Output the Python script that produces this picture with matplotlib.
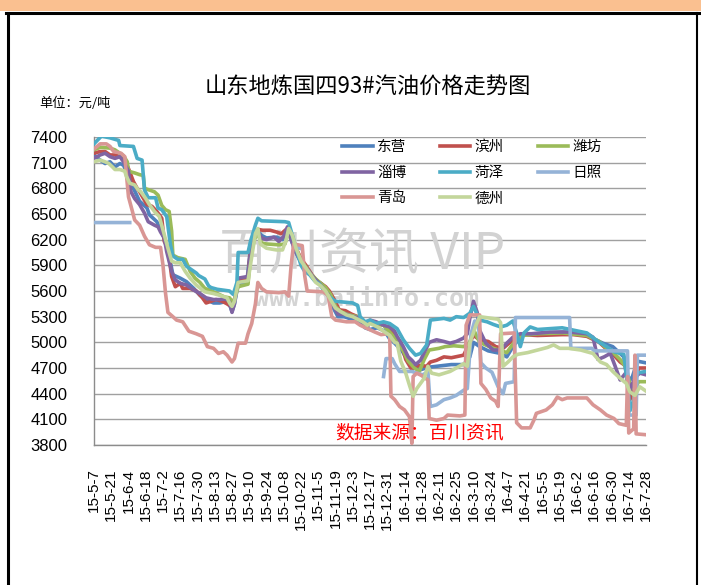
import matplotlib
matplotlib.use("Agg")
import matplotlib.pyplot as plt
from matplotlib.patches import Rectangle
from matplotlib.lines import Line2D
import numpy as np

plt.rcParams['font.family'] = ['Noto Sans CJK SC', 'DejaVu Sans']

W, H = 701, 585

title = '山东地炼国四93#汽油价格走势图'
unit = '单位：元/吨'
source = '数据来源：百川资讯'

# x axis: days since 15-5-7, one label every 14 days
tick_labels = ['15-5-7', '15-5-21', '15-6-4', '15-6-18', '15-7-2', '15-7-16', '15-7-30',
               '15-8-13', '15-8-27', '15-9-10', '15-9-24', '15-10-8', '15-10-22', '15-11-5',
               '15-11-19', '15-12-3', '15-12-17', '15-12-31', '16-1-14', '16-1-28', '16-2-11',
               '16-2-25', '16-3-10', '16-3-24', '16-4-7', '16-4-21', '16-5-5', '16-5-19',
               '16-6-2', '16-6-16', '16-6-30', '16-7-14', '16-7-28']
yticks = list(range(3800, 7401, 300))

# 东营
dy_day = [0, 5, 9, 13, 17, 21, 24, 26, 32, 37, 43, 45, 51, 55, 59, 62, 64, 70, 75, 81,
          86, 91, 97, 102, 108, 110, 112, 114, 117, 124, 127, 130, 133, 136, 140, 148, 153, 156, 158, 160,
          163, 166, 169, 173, 177, 181, 185, 189, 192, 195, 198, 203, 207, 212, 216, 220, 224, 230, 236, 240,
          244, 250, 255, 258, 261, 265, 272, 278, 290, 300, 305, 308, 313, 320, 330, 335, 340, 346, 350, 360,
          370, 380, 390, 400, 413, 421, 430, 433, 437, 441, 448]
dy_val = [7190, 7130, 7090, 7110, 7050, 7090, 7070, 7000, 6800, 6650, 6570, 6490, 6410, 6290, 6140, 5940, 5790, 5750, 5710, 5630,
          5550, 5500, 5460, 5460, 5480, 5440, 5360, 5450, 5680, 5700, 6100, 6250, 6300, 6250, 6220, 6230, 6200, 6280, 6330, 6200,
          6080, 5990, 5900, 5830, 5770, 5720, 5680, 5600, 5470, 5380, 5300, 5300, 5280, 5270, 5240, 5170, 5150, 5170, 5130, 5040,
          4990, 4900, 4780, 4720, 4700, 4680, 4710, 4720, 4740, 4740, 4830, 5000, 4950, 4900, 4870, 4830, 4950, 5060, 5100, 5100,
          5110, 5120, 5110, 5080, 4990, 4950, 4830, 4520, 4600, 4780, 4760]

# 滨州
bz_day = [0, 5, 9, 13, 17, 21, 25, 28, 32, 35, 37, 43, 47, 51, 55, 57, 60, 63, 66, 70,
          72, 78, 83, 88, 91, 99, 104, 108, 111, 114, 117, 125, 127, 130, 133, 137, 143, 148, 152, 156,
          158, 161, 164, 168, 172, 176, 180, 184, 188, 191, 195, 199, 204, 209, 214, 218, 222, 224, 235, 240,
          246, 249, 253, 258, 261, 265, 270, 273, 278, 284, 290, 300, 305, 308, 313, 320, 326, 332, 336, 342,
          348, 360, 380, 389, 400, 410, 416, 422, 427, 432, 435, 439, 442, 448]
bz_val = [7210, 7230, 7230, 7190, 7190, 7170, 7130, 7030, 6880, 6800, 6760, 6610, 6590, 6530, 6450, 6180, 6100, 5770, 5650, 5690,
          5630, 5630, 5600, 5520, 5460, 5500, 5480, 5450, 5420, 5500, 5720, 5750, 6100, 6280, 6320, 6310, 6310, 6290, 6270, 6320,
          6330, 6200, 6100, 5980, 5900, 5810, 5730, 5690, 5650, 5600, 5500, 5380, 5370, 5330, 5300, 5250, 5220, 5240, 5200, 5140,
          5050, 5000, 4800, 4680, 4720, 4730, 4720, 4770, 4790, 4830, 4820, 4850, 5000, 5080, 5030, 5010, 4950, 4930, 4980, 5050,
          5090, 5080, 5090, 5090, 5070, 5000, 4920, 4850, 4770, 4720, 4330, 4520, 4700, 4700]

# 潍坊
wf_day = [0, 5, 13, 17, 21, 24, 27, 28, 33, 37, 40, 41, 45, 49, 52, 55, 58, 61, 63, 64,
          68, 74, 76, 78, 82, 86, 90, 94, 100, 106, 110, 112, 114, 117, 125, 127, 130, 133, 136, 140,
          150, 155, 158, 161, 164, 168, 172, 176, 180, 184, 188, 192, 196, 200, 205, 210, 214, 218, 222, 224,
          235, 240, 246, 251, 255, 260, 264, 268, 272, 280, 285, 292, 300, 305, 308, 313, 324, 335, 341, 348,
          360, 380, 400, 410, 416, 422, 427, 432, 435, 439, 442, 448]
wf_val = [7250, 7280, 7270, 7250, 7210, 7180, 7110, 7000, 6980, 6960, 6950, 6800, 6780, 6760, 6720, 6600, 6550, 6530, 6300, 6020,
          5990, 5970, 5900, 5830, 5750, 5700, 5630, 5610, 5570, 5530, 5520, 5480, 5500, 5650, 5680, 6000, 6200, 6270, 6160, 6150,
          6140, 6150, 6300, 6230, 6080, 5960, 5880, 5800, 5740, 5690, 5640, 5560, 5420, 5360, 5330, 5310, 5300, 5250, 5200, 5230,
          5200, 5120, 5020, 4900, 4780, 4700, 4660, 4800, 4910, 4930, 4950, 4960, 4950, 5000, 5150, 5000, 4930, 4880, 5000, 5080,
          5100, 5110, 5080, 5010, 4930, 4870, 4800, 4700, 4500, 4450, 4540, 4540]

# 淄博
zb_day = [0, 5, 9, 13, 17, 21, 24, 28, 30, 33, 37, 41, 44, 49, 52, 54, 57, 59, 63, 66,
          70, 75, 81, 86, 91, 97, 102, 108, 110, 112, 114, 117, 125, 127, 130, 133, 136, 140, 146, 150,
          154, 157, 160, 163, 166, 170, 174, 178, 182, 186, 190, 194, 198, 204, 210, 214, 218, 222, 224, 229,
          235, 240, 244, 246, 251, 255, 258, 261, 265, 267, 272, 278, 284, 289, 294, 300, 303, 305, 308, 311,
          313, 318, 324, 330, 335, 340, 346, 355, 370, 386, 400, 405, 409, 414, 419, 423, 427, 432, 435, 439,
          443, 448]
zb_val = [7150, 7190, 7210, 7170, 7150, 7170, 7110, 7000, 6760, 6680, 6610, 6510, 6410, 6370, 6350, 6290, 6220, 6060, 5830, 5730,
          5690, 5670, 5610, 5570, 5520, 5500, 5500, 5510, 5470, 5350, 5450, 5750, 5770, 6050, 6250, 6290, 6220, 6200, 6230, 6180,
          6240, 6350, 6200, 6080, 5990, 5900, 5840, 5760, 5700, 5630, 5560, 5440, 5330, 5330, 5300, 5290, 5240, 5180, 5260, 5240,
          5200, 5180, 5130, 5070, 4950, 4830, 4790, 4740, 4790, 4850, 5000, 5030, 5010, 4990, 5010, 5050, 5100, 5280, 5480, 5350,
          5140, 4990, 4910, 4910, 4990, 5060, 5100, 5100, 5120, 5120, 5100, 5060, 4800, 4830, 4870, 4720, 4560, 4650, 4440, 4590,
          4640, 4620]

# 菏泽
hz_day = [0, 6, 13, 20, 21, 32, 35, 39, 41, 44, 50, 52, 55, 59, 62, 64, 68, 72, 75, 81,
          83, 85, 90, 93, 95, 100, 110, 113, 116, 117, 125, 127, 131, 133, 136, 155, 158, 160, 164, 168,
          171, 175, 179, 183, 187, 192, 196, 210, 214, 216, 220, 224, 229, 235, 240, 246, 251, 256, 261, 265,
          270, 273, 284, 289, 294, 300, 305, 308, 313, 319, 324, 330, 335, 340, 343, 346, 349, 354, 360, 370,
          380, 390, 400, 410, 416, 422, 430, 433, 435, 438, 440, 448]
hz_val = [7320, 7410, 7390, 7360, 7300, 7290, 7150, 7130, 6780, 6690, 6690, 6570, 6550, 6470, 6140, 6010, 5970, 5970, 5890, 5830,
          5810, 5780, 5740, 5660, 5640, 5620, 5600, 5560, 5700, 6050, 6050, 6180, 6370, 6450, 6420, 6410, 6400, 6300, 6100, 5900,
          5830, 5790, 5720, 5680, 5600, 5520, 5480, 5460, 5430, 5300, 5240, 5260, 5220, 5240, 5220, 5160, 5030, 4930, 4850, 4870,
          4970, 5260, 5280, 5260, 5300, 5290, 5340, 5420, 5260, 5240, 5210, 5180, 5200, 5250, 5110, 4950, 5110, 5180, 5150, 5160,
          5170, 5140, 5110, 5000, 4950, 4890, 4860, 4500, 4200, 4330, 4640, 4660]

# 日照 (gaps where no quote)
rz_day = [0, 29, 30, 162, 167, 168, 235, 237, 242, 244, 248, 258, 262, 267, 271, 273, 278, 284, 289, 294,
          300, 303, 306, 309, 312, 314, 318, 323, 328, 332, 334, 341, 342, 386, 387, 404, 406, 433, 434, 440,
          441, 448]
rz_val = [6400, 6400, np.nan, 6120, 6100, np.nan, 4600, 4810, 4810, 4750, 4660, 4660, 4640, 4620, 4660, 4250, 4270, 4330, 4350, 4380,
          4440, 4460, 5100, 5250, 5230, 4760, 4700, 4650, 4480, 4400, 4520, 4540, 5290, 5290, 4930, 4930, 4900, 4900, 4150, 4150,
          4850, 4850]

# 青岛
qd_day = [0, 5, 10, 13, 16, 22, 25, 26, 28, 31, 33, 37, 41, 45, 50, 54, 56, 58, 60, 64,
          67, 72, 77, 83, 88, 92, 97, 101, 105, 108, 112, 114, 117, 123, 125, 128, 131, 133, 136, 140,
          150, 155, 158, 160, 162, 169, 171, 173, 186, 190, 193, 196, 205, 212, 216, 222, 228, 233, 238, 240,
          241, 244, 248, 252, 256, 258, 259, 262, 266, 271, 272, 278, 284, 287, 297, 301, 302, 305, 313, 314,
          318, 322, 326, 328, 330, 341, 343, 347, 354, 357, 359, 367, 372, 376, 380, 384, 400, 405, 411, 416,
          422, 426, 432, 433, 434, 438, 439, 440, 448]
qd_val = [7260, 7320, 7320, 7290, 7230, 7210, 7170, 7010, 6700, 6540, 6430, 6370, 6240, 6140, 6110, 6110, 5900, 5580, 5350, 5300,
          5260, 5240, 5130, 5100, 5070, 4950, 4930, 4870, 4890, 4850, 4770, 4810, 4990, 4990, 5100, 5220, 5450, 5700, 5630, 5590,
          5580, 5590, 5540, 5900, 6150, 6130, 5780, 5600, 5590, 5550, 5300, 5260, 5240, 5240, 5200, 5160, 5120, 5090, 5100, 5080,
          4370, 4330, 4250, 4210, 4130, 3820, 4600, 4640, 4610, 4560, 4110, 4090, 4110, 4150, 4140, 4150, 5200, 5320, 5320, 4520,
          4450, 4350, 4310, 4250, 5100, 5110, 4060, 4000, 4000, 4090, 4170, 4210, 4270, 4360, 4330, 4350, 4350, 4270, 4210, 4150,
          4110, 4050, 4030, 4600, 3940, 3990, 4850, 3930, 3920]

# 德州
dz_day = [0, 5, 9, 12, 15, 17, 21, 25, 26, 29, 33, 36, 38, 42, 45, 49, 53, 57, 60, 63,
          66, 70, 74, 78, 83, 90, 97, 102, 108, 110, 112, 114, 117, 125, 128, 131, 133, 135, 140, 148,
          153, 156, 158, 161, 164, 168, 172, 176, 180, 184, 188, 192, 196, 200, 205, 210, 214, 218, 222, 224,
          230, 235, 240, 244, 246, 249, 253, 256, 259, 262, 265, 268, 271, 274, 280, 289, 294, 300, 303, 305,
          310, 313, 328, 330, 332, 336, 340, 344, 352, 360, 368, 373, 378, 385, 395, 405, 411, 416, 421, 427,
          432, 435, 439, 443, 448]
dz_val = [7110, 7130, 7110, 7090, 7050, 7020, 7020, 7000, 6950, 6860, 6840, 6780, 6760, 6680, 6610, 6530, 6470, 6260, 6100, 5950,
          5930, 5930, 5830, 5750, 5670, 5590, 5570, 5550, 5520, 5460, 5420, 5480, 5700, 5720, 6000, 6270, 6330, 6150, 6100, 6080,
          6080, 6200, 6330, 6250, 6100, 5950, 5870, 5790, 5700, 5660, 5600, 5500, 5400, 5360, 5320, 5300, 5270, 5240, 5200, 5220,
          5180, 5130, 5080, 5000, 4990, 4780, 4640, 4500, 4370, 4460, 4520, 4580, 4720, 4640, 4620, 4660, 4700, 4750, 4720, 4990,
          5200, 5300, 5270, 5230, 4720, 4770, 4830, 4860, 4880, 4910, 4940, 4970, 4930, 4930, 4910, 4870, 4770, 4740, 4660, 4580,
          4520, 4420, 4380, 4480, 4430]

series = [
    ('东营', dy_day, dy_val, '#4F81BD'),
    ('滨州', bz_day, bz_val, '#C0504D'),
    ('潍坊', wf_day, wf_val, '#9BBB59'),
    ('淄博', zb_day, zb_val, '#8064A2'),
    ('菏泽', hz_day, hz_val, '#4BACC6'),
    ('日照', rz_day, rz_val, '#95B3D7'),
    ('青岛', qd_day, qd_val, '#D99694'),
    ('德州', dz_day, dz_val, '#C3D69B'),
]


def fx(px):
    return px / W


def fy(py):
    return 1 - py / H


fig = plt.figure(figsize=(W / 100, H / 100), dpi=100)

# page frame: orange strip and black border
fig.add_artist(Rectangle((0, fy(11)), 1, 11 / H, transform=fig.transFigure,
                         facecolor='#FAC090', edgecolor='none'))
fig.add_artist(Line2D([fx(6), 1], [fy(13), fy(13)], transform=fig.transFigure, color='black', lw=2.2))
fig.add_artist(Line2D([fx(7.5), fx(7.5)], [fy(13), 0], transform=fig.transFigure, color='black', lw=2.2))
fig.add_artist(Line2D([fx(697), fx(697)], [fy(13), 0], transform=fig.transFigure, color='black', lw=1.5))

left, right, top, bottom = 94, 646, 137, 445
ax = fig.add_axes([fx(left), fy(bottom), fx(right - left), (bottom - top) / H])

lines = {}
for name, d, v, c in series:
    ln, = ax.plot(np.array(d), np.array(v, dtype=float), color=c, lw=2.6, label=name,
                  solid_joinstyle='round', zorder=3)
    lines[name] = ln

ax.set_xlim(0, 448)
ax.set_ylim(3800, 7400)
ax.set_yticks(yticks)
ax.set_yticklabels([str(t) for t in yticks], family=['Liberation Sans Narrow', 'Liberation Sans'], fontsize=12)
ax.set_xticks(np.arange(len(tick_labels)) * 14)
ax.set_xticklabels(tick_labels, rotation=90, family='Liberation Sans', fontsize=11)
ax.tick_params(axis='both', length=0)
ax.tick_params(axis='y', pad=19)
ax.tick_params(axis='x', pad=17)
ax.grid(axis='y', color='#A0A0A0', lw=1)
ax.set_axisbelow(True)
for s in ['top', 'right']:
    ax.spines[s].set_visible(False)
for s in ['left', 'bottom']:
    ax.spines[s].set_color('#8C8C8C')
    ax.spines[s].set_linewidth(1)

# legend, three per row
order = ['东营', '淄博', '青岛', '滨州', '菏泽', '德州', '潍坊', '日照']
leg = ax.legend([lines[n] for n in order], order, ncol=3, frameon=False,
                loc='upper left', bbox_to_anchor=(fx(342), fy(140)), bbox_transform=fig.transFigure,
                prop={'size': 10.5}, handlelength=2.1, handletextpad=0.3, columnspacing=2.3,
                labelspacing=0.8, borderpad=0, borderaxespad=0)

# watermark
ax.text(fx(362), fy(255), '百川资讯 VIP', transform=fig.transFigure, fontsize=36,
        color='#D2D2D2', ha='center', va='center', zorder=1)
ax.text(fx(367), fy(299), 'www.baiinfo.com', transform=fig.transFigure, family='DejaVu Sans Mono',
        fontsize=18, fontweight='bold', color='#D4D4D4', ha='center', va='center', zorder=1)

ax.text(fx(420), fy(433), source, transform=fig.transFigure, fontsize=13.5, style='italic',
        color='red', ha='center', va='center', zorder=5)

fig.text(fx(368), fy(87), title, fontsize=16, ha='center', va='center')
fig.text(fx(39), fy(103), unit, fontsize=9.5, ha='left', va='center')

fig.savefig('out.png', dpi=100)
